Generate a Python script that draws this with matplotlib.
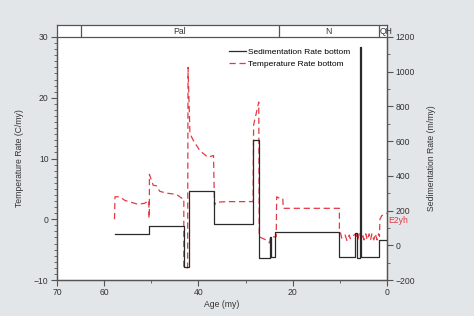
import matplotlib
matplotlib.use("Agg")
import matplotlib.pyplot as plt
from matplotlib.lines import Line2D

plt.rcParams['font.family'] = ['Liberation Sans', 'DejaVu Sans']

# ---- data ----
sed_edges = [57.8, 50.4, 43.1, 42.1, 36.6, 28.4, 27.2, 24.9, 24.7, 23.7,
             10.1, 6.7, 6.4, 5.8, 5.6, 1.7, 0.0]
sed_values = [63, 109, -127, 313, 121, 605, -75, 45, -67, 77,
              -69, 70, -75, 1140, -69, 29]

temp_age = [57.8, 57.7, 56.7, 55.6, 54.3, 53.0, 51.5, 50.5, 50.5, 50.4, 50.4,
            49.6, 48.9, 48.2, 46.8, 44.7, 43.4, 43.1, 43.1, 42.3, 42.2,
            41.8, 41.1, 39.7, 38.0, 36.8, 36.6, 36.3, 34.0, 31.0, 28.5,
            28.4, 28.3, 27.2, 27.1, 25.4, 24.9, 24.7, 23.5, 23.4, 22.7, 22.1,
            22.0, 10.1, 10.1, 9.6, 8.9, 8.5, 8.0, 7.8, 7.0,
            6.6, 6.2, 5.9, 5.5, 5.2, 4.9, 4.5, 4.2, 3.8, 3.5, 3.2, 2.8, 2.5, 2.1, 1.8,
            1.6, 1.5, 1.1, 0.0]
temp_values = [0.0, 3.7, 3.7, 3.1, 2.8, 2.5, 2.6, 3.1, 0.2, 0.2, 7.4,
               5.6, 5.5, 4.6, 4.3, 4.1, 3.4, 3.4, -8.0, -8.0, 25.0,
               14.1, 13.0, 11.3, 10.2, 10.5, 2.3, 2.8, 2.9, 2.9, 2.9,
               2.9, 15.5, 19.3, -2.9, -3.5, -3.9, -2.9, -2.9, 3.7, 3.4, 3.4,
               1.8, 1.8, -1.5, -3.1, -2.6, -3.5, -2.6, -3.2, -2.6,
               -2.4, -3.4, -2.4, -3.4, -2.4, -3.4, -2.4, -3.4, -2.4, -3.4, -2.4, -3.4, -2.4, -3.4, -2.4,
               -2.8, 0.0, 0.6, 1.0]

stage_edges = [70, 65, 23, 1.7, 0]
stage_labels = ['', 'Pal', 'N', 'QH']

left_ticks = [-10, 0, 10, 20, 30]
right_ticks = [-200, 0, 200, 400, 600, 800, 1000, 1200]
x_ticks = [70, 60, 40, 20, 0]
x_minor = [50, 30, 10]

# ---- figure ----
bg = '#e3e6e9'
fig = plt.figure(figsize=(4.74, 3.16), dpi=100, facecolor=bg)
L, B, W, H = 57/474, 1-280/316, 330/474, 243/316
ax = fig.add_axes([L, B, W, H])
ax.set_facecolor('white')
ax2 = ax.twinx()

red = '#e23a43'
blk = '#2a2a2a'
dash = (0, (5, 3))
ax.plot(temp_age, temp_values, color=red, lw=0.9, ls=dash)

# step line for sedimentation
sx, sy = [], []
for i, v in enumerate(sed_values):
    sx += [sed_edges[i], sed_edges[i+1]]
    sy += [v, v]
ax2.plot(sx, sy, color=blk, lw=0.9)

ax.set_xlim(70, 0)
ax.set_ylim(-10, 30)
ax2.set_ylim(-200, 1200)

spine_c = '#555555'
for a in (ax, ax2):
    for s in a.spines.values():
        s.set_color(spine_c)
        s.set_linewidth(0.9)
ax.spines['top'].set_visible(False)
ax2.spines['top'].set_visible(False)

ax.set_xticks(x_ticks)
ax.set_xticks(x_minor, minor=True)
ax.set_yticks(left_ticks)
ax.set_yticks(range(-10, 31), minor=True)
ax2.set_yticks(right_ticks)
ax2.set_yticks(range(-200, 1201, 100), minor=True)

tc = '#333333'
fs = 6.2
ax.tick_params(axis='both', which='major', labelsize=fs, colors=spine_c,
               labelcolor=tc, length=4, width=0.8, direction='out', pad=2)
ax.tick_params(axis='both', which='minor', length=2, width=0.6, colors=spine_c, direction='out')
ax2.tick_params(axis='y', which='major', labelsize=fs, colors=spine_c,
                labelcolor=tc, length=4, width=0.8, direction='out', pad=2)
ax2.tick_params(axis='y', which='minor', length=2, width=0.6, colors=spine_c, direction='out')

ax.set_xlabel('Age (my)', fontsize=fs, color=tc, labelpad=2)
ax.set_ylabel('Temperature Rate (C/my)', fontsize=fs, color=tc, labelpad=7)
ax2.set_ylabel('Sedimentation Rate (m/my)', fontsize=fs, color=tc, labelpad=9)

ax.text(-0.3, -0.2, 'E2yh', color=red, fontsize=fs, ha='left', va='center', clip_on=False)

handles = [Line2D([], [], color=blk, lw=0.9),
           Line2D([], [], color=red, lw=0.9, ls=dash)]
ax2.legend(handles, ['Sedimentation Rate bottom', 'Temperature Rate bottom'],
           loc='upper left', bbox_to_anchor=(172/330, 0.955), frameon=False,
           borderaxespad=0, borderpad=0,
           fontsize=6, handlelength=2.0, handletextpad=0.3, labelspacing=0.55)

# stage strip
sax = fig.add_axes([L, 1-37/316, W, 12/316])
sax.set_xlim(70, 0)
sax.set_ylim(0, 1)
sax.set_facecolor('white')
for s in sax.spines.values():
    s.set_color(spine_c)
    s.set_linewidth(0.9)
sax.set_xticks([])
sax.set_yticks([])
for e in stage_edges[1:-1]:
    sax.axvline(e, color=spine_c, lw=0.9)
for i, lab in enumerate(stage_labels):
    if not lab:
        continue
    if lab == 'QH':
        sax.text(stage_edges[i] - 0.1, 0.45, lab, ha='left', va='center', fontsize=fs,
                 color=tc, clip_on=False)
    else:
        sax.text((stage_edges[i] + stage_edges[i+1]) / 2, 0.45, lab, ha='center',
                 va='center', fontsize=fs, color=tc)

fig.savefig('out.png', dpi=100, facecolor=bg)
